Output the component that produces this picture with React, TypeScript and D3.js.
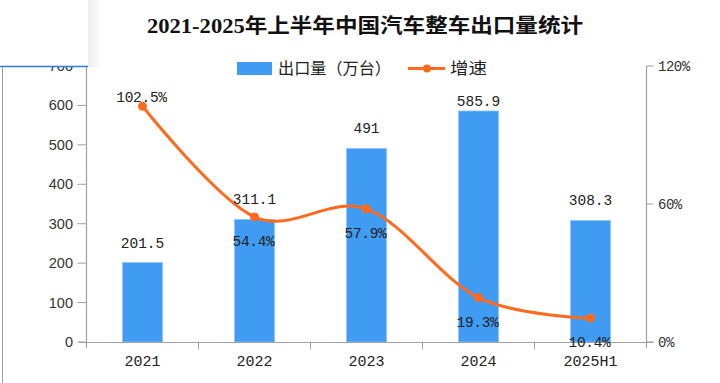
import React from "react";
import * as d3 from "d3";

const categories = ["2021", "2022", "2023", "2024", "2025H1"];
const exportVolume = [201.5, 311.1, 491, 585.9, 308.3];
const exportLabels = ["201.5", "311.1", "491", "585.9", "308.3"];
const growthRate = [102.5, 54.4, 57.9, 19.3, 10.4];
const growthLabels = ["102.5%", "54.4%", "57.9%", "19.3%", "10.4%"];
const leftTicks = [0, 100, 200, 300, 400, 500, 600, 700];
const rightTicks = [0, 60, 120];
const title = "2021-2025年上半年中国汽车整车出口量统计";
const legendBar = "出口量（万台）";
const legendLine = "增速";

const W = 720;
const H = 383;
const BLUE = "#3f9cf2";
const ORANGE = "#ff6a1f";
const AXIS = "#a0a0a0";

export default function App() {
  const left = 86.5;
  const right = 646.5;
  const top = 66;
  const bottom = 342;

  const x = d3.scaleBand<string>().domain(categories).range([left, right]).paddingInner(0).paddingOuter(0);
  const yL = d3.scaleLinear().domain([0, 700]).range([bottom, top]);
  const yR = d3.scaleLinear().domain([0, 120]).range([bottom, top]);
  const barW = 40;

  const pts: [number, number][] = growthRate.map((v, i) => [x(categories[i])! + x.bandwidth() / 2, yR(v)]);
  const line = d3.line().curve(d3.curveCardinal.tension(0))(pts) || "";

  const mono = "'Liberation Mono', 'DejaVu Sans Mono', monospace";
  const sans = "'Liberation Sans', Arial, sans-serif";
  const cjk = "'Noto Sans CJK SC', sans-serif";

  return (
    <svg width={W} height={H} style={{ position: "absolute", left: 0, top: 0, background: "#fff" }}>
      <defs>
        <linearGradient id="shadow" x1="0" x2="1" y1="0" y2="0">
          <stop offset="0" stopColor="#e6e6e6" />
          <stop offset="1" stopColor="#ffffff" />
        </linearGradient>
      </defs>
      <rect x={0} y={0} width={W} height={H} fill="#fff" />

      {/* title */}
      <text x={147} y={33} textLength={436} lengthAdjust="spacingAndGlyphs" fontSize={20} fontWeight="bold"
        fontFamily={"'Liberation Serif', 'Noto Sans CJK SC', serif"} fill="#111">{title}</text>

      {/* legend */}
      <rect x={237} y={62} width={35} height={13} fill={BLUE} />
      <text x={278} y={74} fontSize={16} fontFamily={cjk} fill="#222" textLength={113} lengthAdjust="spacingAndGlyphs">{legendBar}</text>
      <line x1={408} x2={445} y1={68.5} y2={68.5} stroke={ORANGE} strokeWidth={3} />
      <circle cx={427} cy={68.5} r={4} fill={ORANGE} />
      <text x={450} y={74} fontSize={16} fontFamily={cjk} fill="#222" textLength={37} lengthAdjust="spacingAndGlyphs">{legendLine}</text>

      {/* bars */}
      {exportVolume.map((v, i) => {
        const cx = x(categories[i])! + x.bandwidth() / 2;
        return (
          <rect key={i} x={cx - barW / 2} y={yL(v)} width={barW} height={bottom - yL(v)} fill={BLUE} stroke="#8fc6f7" strokeWidth={0.8} />
        );
      })}

      {/* axes */}
      <line x1={left} x2={left} y1={top} y2={bottom + 6} stroke={AXIS} strokeWidth={1.2} />
      <line x1={right} x2={right} y1={top} y2={bottom + 6} stroke={AXIS} strokeWidth={1.2} />
      <line x1={left - 8} x2={right + 7} y1={bottom + 0.5} y2={bottom + 0.5} stroke={AXIS} strokeWidth={1.2} />
      {leftTicks.map((t) => (
        <g key={"l" + t}>
          <line x1={left - 9} x2={left} y1={yL(t)} y2={yL(t)} stroke={AXIS} strokeWidth={1} />
          <text x={73} y={yL(t) + 5} textAnchor="end" fontSize={14.5} fontFamily={sans} fill="#333">{t}</text>
        </g>
      ))}
      {rightTicks.map((t) => (
        <g key={"r" + t}>
          <line x1={right} x2={right + 7} y1={yR(t)} y2={yR(t)} stroke={AXIS} strokeWidth={1} />
          <text x={658} y={yR(t) + 5} fontSize={14} fontFamily={mono} fill="#333" letterSpacing={-0.5}>{t + "%"}</text>
        </g>
      ))}
      {categories.slice(1).map((c) => (
        <line key={"t" + c} x1={x(c)!} x2={x(c)!} y1={bottom} y2={bottom + 7} stroke={AXIS} strokeWidth={1} />
      ))}
      {categories.map((c) => (
        <text key={"c" + c} x={x(c)! + x.bandwidth() / 2} y={366} textAnchor="middle" fontSize={15} fontFamily={mono} fill="#222">{c}</text>
      ))}

      {/* line */}
      <path d={line} fill="none" stroke={ORANGE} strokeWidth={3} strokeLinecap="round" />
      {pts.map((p, i) => (
        <circle key={"p" + i} cx={p[0]} cy={p[1]} r={4.5} fill={ORANGE} />
      ))}

      {/* bar labels */}
      {exportVolume.map((v, i) => {
        const cx = x(categories[i])! + x.bandwidth() / 2;
        const ly = Math.max(yL(v) - 20, 101);
        return (
          <text key={"bl" + i} x={cx} y={ly + 5} textAnchor="middle" fontSize={14.5} fontFamily={mono} fill="#222">{exportLabels[i]}</text>
        );
      })}

      {/* line labels */}
      {pts.map((p, i) => {
        const ly = i === 0 ? p[1] - 9 : p[1] + 24;
        return (
          <text key={"ll" + i} x={p[0] - 1} y={ly + 5} textAnchor="middle" fontSize={14.5} fontFamily={mono} fill="#222" letterSpacing={-0.3}>{growthLabels[i]}</text>
        );
      })}

      {/* top-left overlay artifact */}
      <rect x={0} y={0} width={88} height={66} fill="#fff" />
      <rect x={88} y={0} width={14} height={67} fill="url(#shadow)" opacity={0.7} />
      <line x1={0} x2={88} y1={66.5} y2={66.5} stroke="#2b7de0" strokeWidth={1.5} />
      <line x1={2.5} x2={2.5} y1={67} y2={H} stroke="#9a9a9a" strokeWidth={1} />
    </svg>
  );
}
